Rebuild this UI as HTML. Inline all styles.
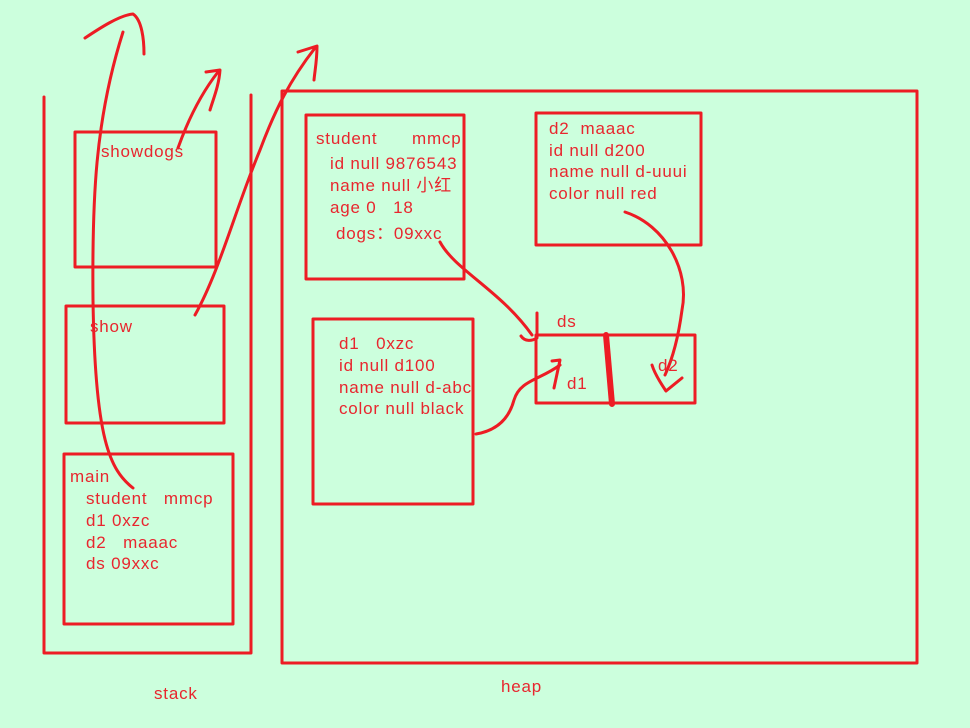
<!DOCTYPE html>
<html><head><meta charset="utf-8"><style>
html,body{margin:0;padding:0;background:#ccffdd;}
svg{display:block}
text{font-family:"Liberation Sans","Noto Sans CJK SC",sans-serif;font-size:17px;letter-spacing:0.8px;fill:#e8262e;}
</style></head><body>
<svg width="970" height="728" viewBox="0 0 970 728" xmlns="http://www.w3.org/2000/svg">
<rect width="970" height="728" fill="#ccffdd"/>
<g fill="none" stroke="#ed1c24" stroke-width="3" stroke-linecap="round" stroke-linejoin="round">
<path d="M44,97 V653 H251 V95"/>
<rect x="75" y="132" width="141" height="135"/>
<rect x="66" y="306" width="158" height="117"/>
<rect x="64" y="454" width="169" height="170"/>
<rect x="282" y="91" width="635" height="572"/>
<rect x="306" y="115" width="158" height="164"/>
<rect x="536" y="113" width="165" height="132"/>
<rect x="313" y="319" width="160" height="185"/>
<rect x="536" y="335" width="159" height="68"/>
<path d="M606,335 L612,404" stroke-width="6"/>
<path d="M133,488 C110,470 95,440 93,300 C92,200 95,120 123,32"/>
<path d="M85,38 C100,28 120,15 133,14 C142,20 144,40 144,54"/>
<path d="M178,148 C188,120 200,95 218,72"/>
<path d="M206,72 L220,70 C219,85 214,97 210,110"/>
<path d="M195,315 C220,270 235,210 260,150 C275,110 290,80 315,48"/>
<path d="M298,52 L317,46 C317,60 315,70 314,80"/>
<path d="M440,242 C455,270 500,290 532,335"/>
<path d="M521,336 C525,342 532,341 537,338 L537,313"/>
<path d="M476,434 C500,430 510,415 514,400 C520,380 540,380 560,365"/>
<path d="M552,361 L560,360 L554,388"/>
<path d="M625,212 C665,225 690,270 682,310 C678,340 672,360 665,375"/>
<path d="M652,365 C655,375 662,385 666,391 L682,378"/>
</g>
<text x="101" y="157">showdogs</text>
<text x="90" y="332">show</text>
<text x="70" y="482">main</text>
<text x="86" y="504">student&#160;&#160; mmcp</text>
<text x="86" y="526">d1 0xzc</text>
<text x="86" y="548">d2&#160;&#160; maaac</text>
<text x="86" y="569">ds 09xxc</text>
<text x="316" y="144">student</text>
<text x="412" y="144">mmcp</text>
<text x="330" y="169">id null 9876543</text>
<text x="330" y="191">name null 小红</text>
<text x="330" y="213">age 0&#160;&#160; 18</text>
<text x="336" y="239">dogs：09xxc</text>
<text x="549" y="134">d2&#160; maaac</text>
<text x="549" y="156">id null d200</text>
<text x="549" y="177">name null d-uuui</text>
<text x="549" y="199">color null red</text>
<text x="339" y="349">d1&#160;&#160; 0xzc</text>
<text x="339" y="371">id null d100</text>
<text x="339" y="393">name null d-abc</text>
<text x="339" y="414">color null black</text>
<text x="557" y="327">ds</text>
<text x="567" y="389">d1</text>
<text x="658" y="371">d2</text>
<text x="154" y="699">stack</text>
<text x="501" y="692">heap</text>
</svg>
</body></html>
